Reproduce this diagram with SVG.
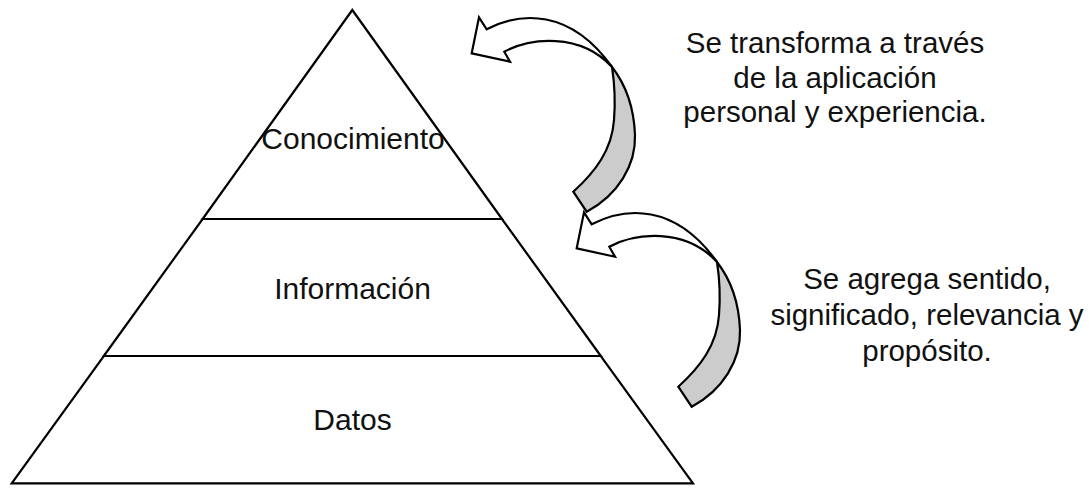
<svg xmlns="http://www.w3.org/2000/svg" xmlns:xlink="http://www.w3.org/1999/xlink" width="1089" height="488" viewBox="0 0 1089 488">
  <style>
    .ln { fill: none; stroke: #000; stroke-width: 2.2; stroke-linejoin: miter; }
    .lbl { font-family: "Liberation Sans", Arial, sans-serif; font-size: 30px; fill: #111; text-anchor: middle; }
    .note { font-family: "Liberation Sans", Arial, sans-serif; font-size: 29.5px; fill: #111; text-anchor: middle; }
    .shaft { fill: #fff; stroke: #000; stroke-width: 2.2; stroke-linejoin: miter; }
    .back { fill: #cccccc; stroke: #000; stroke-width: 2.2; stroke-linejoin: miter; }
  </style>
  <defs>
    <g id="curvedArrow">
      <path class="back" d="M612,67 C626,85 634,108 635,135 C636,165 618,195 586.7,211.7 L573.3,191.7 C595,172 612,150 614,120 C616,95 614,80 612,67 Z"/>
      <path class="shaft" d="M471.7,53.3 L479,17.3 L486.7,29.3 C520,12 570,8 612,67 C580,32 530,38 504.3,51.7 L510,61.7 Z"/>
    </g>
  </defs>
  <rect width="1089" height="488" fill="#fff"/>

  <g id="pyramid">
    <g id="node-conocimiento">
      <path class="ln" d="M352.3,10 L502,219 L202.6,219 Z" fill="#fff"/>
      <text class="lbl" x="353" y="149">Conocimiento</text>
    </g>
    <g id="node-informacion">
      <path class="ln" d="M202.6,219 L502,219 L600.8,356 L103.8,356 Z"/>
      <text class="lbl" x="352.5" y="299">Información</text>
    </g>
    <g id="node-datos">
      <path class="ln" d="M103.8,356 L600.8,356 L693,483.3 L11.7,483.3 Z"/>
      <text class="lbl" x="352.5" y="430">Datos</text>
    </g>
  </g>

  <g id="connectors">
    <use xlink:href="#curvedArrow" href="#curvedArrow"/>
    <use xlink:href="#curvedArrow" href="#curvedArrow" transform="translate(105,195)"/>
  </g>

  <g id="label-transforma">
    <text class="note" x="835" y="53">Se transforma a través</text>
    <text class="note" x="835" y="88">de la aplicación</text>
    <text class="note" x="835" y="122">personal y experiencia.</text>
  </g>
  <g id="label-agrega">
    <text class="note" x="927" y="289">Se agrega sentido,</text>
    <text class="note" x="927" y="325">significado, relevancia y</text>
    <text class="note" x="927" y="361">propósito.</text>
  </g>
</svg>
